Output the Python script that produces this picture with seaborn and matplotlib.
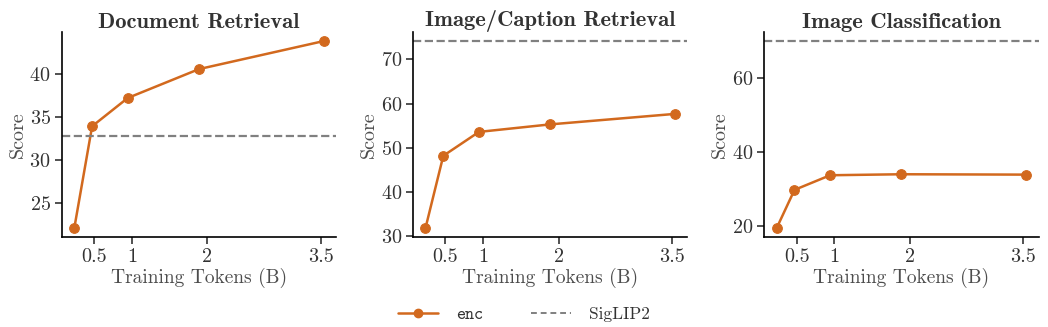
import matplotlib
matplotlib.use("Agg")
import matplotlib.pyplot as plt
import seaborn as sns
import pandas as pd
import numpy as np
from matplotlib.lines import Line2D

sns.set_theme(style="ticks")
plt.rcParams['font.family'] = ['cmr10']
plt.rcParams['mathtext.fontset'] = 'cm'
plt.rcParams['axes.formatter.use_mathtext'] = True

tokens = [0.236, 0.472, 0.944, 1.888, 3.54]
titles = ["Document Retrieval", "Image/Caption Retrieval", "Image Classification"]
enc_doc = [22.15, 33.92, 37.19, 40.53, 43.77]
enc_cap = [31.87, 48.2, 53.6, 55.3, 57.67]
enc_cls = [19.38, 29.73, 33.7, 33.97, 33.87]
siglip2 = [32.85, 74.13, 70.09]
xticks = [0.5, 1, 2, 3.5]
xtick_labels = ["0.5", "1", "2", "3.5"]
yticks = [[25, 30, 35, 40], [30, 40, 50, 60, 70], [20, 40, 60]]

series = [enc_doc, enc_cap, enc_cls]
color = "#D2691E"
grey = "#808080"

fig, axes = plt.subplots(1, 3, figsize=(10.48, 3.27), dpi=100)
fig.subplots_adjust(left=0.059, right=0.991, top=0.903, bottom=0.274, wspace=0.28)

for ax, title, vals, base, yt in zip(axes, titles, series, siglip2, yticks):
    df = pd.DataFrame({"tokens": tokens, "score": vals})
    sns.lineplot(data=df, x="tokens", y="score", ax=ax, color=color,
                 marker="o", markersize=7, markeredgecolor=color, linewidth=1.8)
    ax.axhline(base, color=grey, linestyle="--", linewidth=1.6)
    lo = min(min(vals), base)
    hi = max(max(vals), base)
    pad = 0.05 * (hi - lo)
    ax.set_ylim(lo - pad, hi + pad)
    ax.set_xticks(xticks)
    ax.set_xticklabels(xtick_labels)
    ax.set_yticks(yt)
    ax.set_title(title, fontfamily='cmb10', fontsize=16.3, color='.2', pad=3)
    ax.set_xlabel("Training Tokens (B)", fontsize=14, color='.3', labelpad=1)
    ax.set_ylabel("Score", fontsize=14.5, color='.3', labelpad=2)
    ax.tick_params(labelsize=14.5, colors='.2', length=5, width=1.2, pad=3)
    for s in ["left", "bottom"]:
        ax.spines[s].set_linewidth(1.2)
        ax.spines[s].set_color('black')
    sns.despine(ax=ax)

handles = [
    Line2D([0], [0], color=color, marker="o", markersize=6, linewidth=1.8),
    Line2D([0], [0], color=grey, linestyle="--", linewidth=1.4, dashes=(3, 2)),
]
leg = fig.legend(handles, ["enc", "SigLIP2"], loc="lower center", ncol=2,
                 frameon=False, bbox_to_anchor=(0.5, -0.035), fontsize=12.5,
                 columnspacing=2.8, handlelength=2.3, handletextpad=1.0)
leg.get_texts()[0].set_fontfamily('cmtt10')
for t in leg.get_texts():
    t.set_color('.2')

fig.savefig("out.png", dpi=100)
